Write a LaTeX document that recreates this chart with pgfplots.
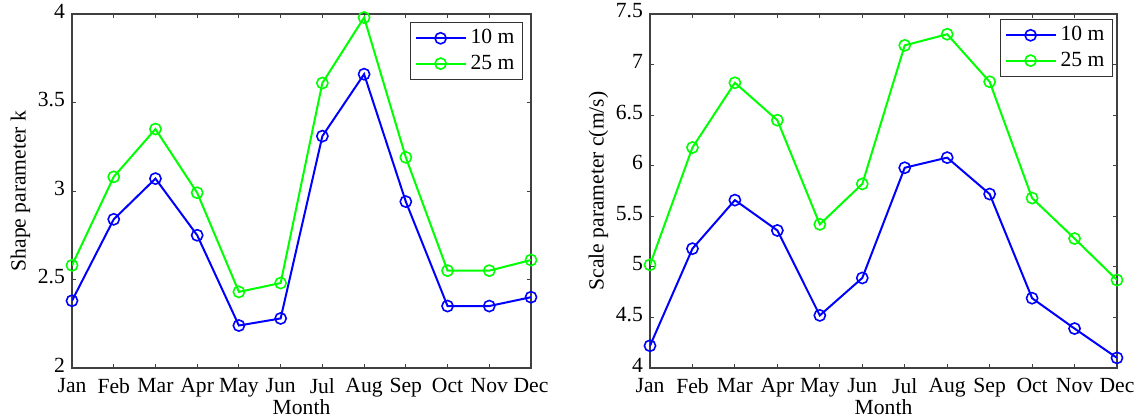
\documentclass[border=0pt]{standalone}
\usepackage{fontspec}
\setmainfont{Liberation Serif}
\usepackage{pgfplots}
\pgfplotsset{compat=1.18}
\definecolor{mblue}{RGB}{0,0,255}
\definecolor{mgreen}{RGB}{0,255,0}
\pgfplotsset{
  mstyle/.style={
    scale only axis,
    height=177pt,
    xmin=0, xmax=11,
    xtick={0,...,11},
    xticklabels={Jan,Feb,Mar,Apr,May,Jun,Jul,Aug,Sep,Oct,Nov,Dec},
    yticklabel={\pgfmathprintnumber{\tick}},
    tick align=inside,
    major tick length=2.2pt,
    tick style={black!75, line width=0.5pt},
    axis line style={black!75, line width=0.6pt},
    /pgf/number format/assume math mode=true,
    ticklabel style={font=\fontsize{10.8}{12}\selectfont},
    label style={font=\fontsize{10.8}{12}\selectfont},
    xticklabel style={yshift=-1.5pt},
    yticklabel style={yshift=1.5pt},
    xlabel={Month},
    xlabel style={yshift=5.5pt},
    legend cell align=left,
    legend style={font=\fontsize{10.8}{12}\selectfont, draw=black!80, line width=0.6pt,
      inner xsep=2pt, inner ysep=1.5pt, row sep=0pt},
    legend image code/.code={\draw[#1, mark repeat=2, mark phase=2] plot coordinates {(0pt,0pt) (12.5pt,0pt) (25pt,0pt)};},
    every axis plot/.append style={line width=1pt, mark=o, mark size=2.8pt, mark options={line width=0.8pt}},
  }
}
\begin{document}
\begin{tikzpicture}
\useasboundingbox (0,0) rectangle (570.5pt,209pt);
\begin{axis}[mstyle,
  at={(36pt,25pt)}, anchor=south west,
  width=229.5pt,
  ymin=2, ymax=4,
  ytick={2,2.5,3,3.5,4},
  ylabel={Shape parameter k},
  ylabel style={yshift=-3pt},
  legend style={at={(1,1)}, anchor=north east, xshift=-4pt, yshift=-4pt},
]
\addplot[color=mblue] coordinates {(0,2.38) (1,2.84) (2,3.07) (3,2.75) (4,2.24) (5,2.28) (6,3.31) (7,3.66) (8,2.94) (9,2.35) (10,2.35) (11,2.40)};
\addlegendentry{10 m}
\addplot[color=mgreen] coordinates {(0,2.58) (1,3.08) (2,3.35) (3,2.99) (4,2.43) (5,2.48) (6,3.61) (7,3.98) (8,3.19) (9,2.55) (10,2.55) (11,2.61)};
\addlegendentry{25 m}
\end{axis}
\begin{axis}[mstyle,
  at={(325pt,25pt)}, anchor=south west,
  width=233.5pt,
  ymin=4, ymax=7.5,
  ytick={4,4.5,5,5.5,6,6.5,7,7.5},
  ylabel={Scale parameter c(m/s)},
  ylabel style={yshift=-3pt},
  legend style={at={(1,1)}, anchor=north east, xshift=-2pt, yshift=-2.5pt},
]
\addplot[color=mblue] coordinates {(0,4.22) (1,5.18) (2,5.66) (3,5.36) (4,4.52) (5,4.89) (6,5.98) (7,6.08) (8,5.72) (9,4.69) (10,4.39) (11,4.10)};
\addlegendentry{10 m}
\addplot[color=mgreen] coordinates {(0,5.02) (1,6.18) (2,6.82) (3,6.45) (4,5.42) (5,5.82) (6,7.19) (7,7.30) (8,6.83) (9,5.68) (10,5.28) (11,4.87)};
\addlegendentry{25 m}
\end{axis}
\end{tikzpicture}
\end{document}
